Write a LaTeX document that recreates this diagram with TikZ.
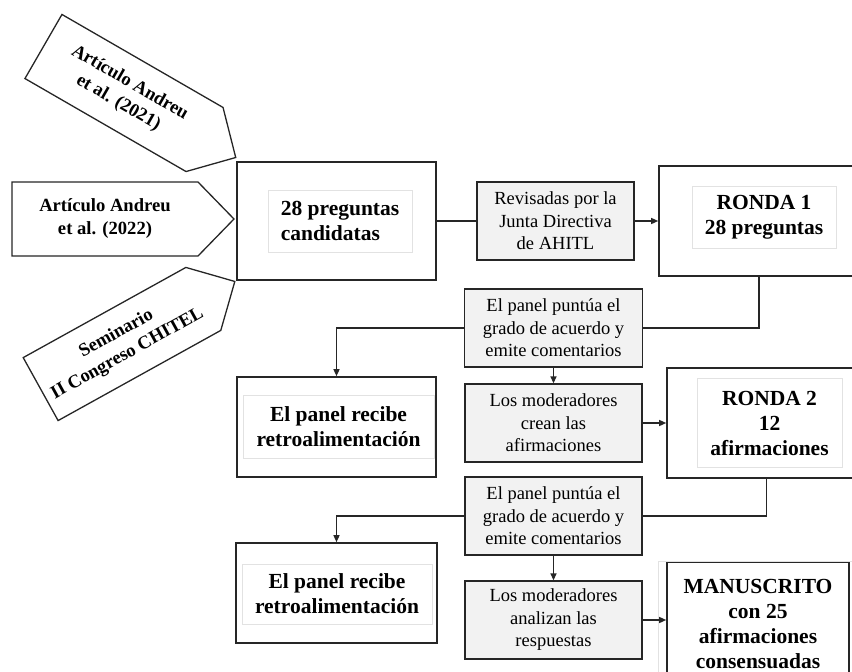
\documentclass[tikz,border=0pt]{standalone}
\usepackage{fontspec}
\setmainfont{Liberation Serif}
\usetikzlibrary{arrows.meta,positioning,calc}
\definecolor{inkgray}{RGB}{38,38,38}
\definecolor{softgray}{RGB}{242,242,242}
\definecolor{framegray}{RGB}{226,226,226}

\begin{document}
\begin{tikzpicture}[x=1pt,y=-1pt,>={Triangle[length=7pt,width=6pt]}]
\tikzstyle{outer}=[draw=inkgray,line width=1.6pt,fill=white,inner sep=0pt]
\tikzstyle{caption}=[draw=framegray,line width=0.8pt,align=center,inner sep=0pt,font=\fontsize{21.5}{25}\selectfont\bfseries]
\tikzstyle{task}=[draw=inkgray,line width=1.3pt,fill=softgray,align=center,minimum width=177pt,minimum height=78pt,inner sep=0pt,font=\fontsize{18.5}{22.5}\selectfont]
\tikzstyle{tag}=[draw=inkgray,line width=1.3pt,fill=white]
\tikzstyle{tagtext}=[align=center,inner sep=0pt,font=\fontsize{18.6}{23}\selectfont\bfseries]
\tikzstyle{wire}=[draw=inkgray,line width=1.3pt]
\useasboundingbox (0,0) rectangle (852,672);
% sources
\begin{scope}[shift={(124,93)},rotate=-30]
\draw[tag] (-93,-37) -- (93,-37) -- (129,0) -- (93,37) -- (-93,37) -- cycle;
\node[tagtext,rotate=-30] (src1) at (0,0) {Artículo Andreu\\et al. (2021)};
\end{scope}
\begin{scope}[shift={(105,219)}]
\draw[tag] (-93,-37) -- (93,-37) -- (129,0) -- (93,37) -- (-93,37) -- cycle;
\node[tagtext] (src2) at (0,0) {Artículo Andreu\\et al. (2022)};
\end{scope}
\begin{scope}[shift={(122,344)},rotate=29]
\draw[tag] (-93,-36) -- (93,-36) -- (129,0) -- (93,36) -- (-93,36) -- cycle;
\node[tagtext,rotate=29] (src3) at (0,0) {Seminario\\II Congreso CHITEL};
\end{scope}
% round 1
\node[outer,minimum width=199pt,minimum height=118pt] (cand) at (336.5,221) {};
\node[caption,align=left,minimum width=144pt,minimum height=62pt] (candtxt) at (340,221) {28 preguntas\\candidatas};
\node[task,minimum width=157pt] (rev) at (555.5,221) {Revisadas por la\\Junta Directiva\\de AHITL};
\node[outer,minimum width=200pt,minimum height=110pt] (r1) at (759,221) {};
\node[caption,minimum width=144pt,minimum height=62pt] (r1txt) at (764,217) {RONDA 1\\28 preguntas};
\node[task,minimum width=178pt] (p1) at (553.5,328) {El panel puntúa el\\grado de acuerdo y\\emite comentarios};
\node[outer,minimum width=199pt,minimum height=100pt] (fb1) at (336.5,427) {};
\node[caption,minimum width=191pt,minimum height=63pt] (fb1txt) at (338.5,426.5) {El panel recibe\\retroalimentación};
\node[task] (c1) at (553.5,423) {Los moderadores\\crean las\\afirmaciones};
% round 2
\node[outer,minimum width=199pt,minimum height=110pt] (r2) at (766.5,423) {};
\node[caption,minimum width=145pt,minimum height=89pt] (r2txt) at (769.5,423) {RONDA 2\\12\\afirmaciones};
\node[task] (p2) at (553.5,516) {El panel puntúa el\\grado de acuerdo y\\emite comentarios};
\node[outer,minimum width=201pt,minimum height=100pt] (fb2) at (336.5,593) {};
\node[caption,minimum width=190pt,minimum height=60pt] (fb2txt) at (337,594) {El panel recibe\\retroalimentación};
\node[task] (an) at (553.5,620) {Los moderadores\\analizan las\\respuestas};
\node[outer,minimum width=182pt,minimum height=116pt] (ms) at (758,620) {};
\node[caption,minimum width=200pt,minimum height=126pt] (mstxt) at (758,624) {MANUSCRITO\\con 25\\afirmaciones\\consensuadas};
% connectors
\draw[wire] (cand) -- (rev);
\draw[wire,->] (rev) -- (r1);
\draw[wire] (r1.south) |- (p1.east);
\draw[wire,->] (p1.west) -| (fb1.north);
\draw[wire,->] (p1) -- (c1);
\draw[wire,->] (c1) -- (r2);
\draw[wire] (r2.south) |- (p2.east);
\draw[wire,->] (p2.west) -| (fb2.north);
\draw[wire,->] (p2) -- (an);
\draw[wire,->] (an) -- (ms);
\end{tikzpicture}
\end{document}
